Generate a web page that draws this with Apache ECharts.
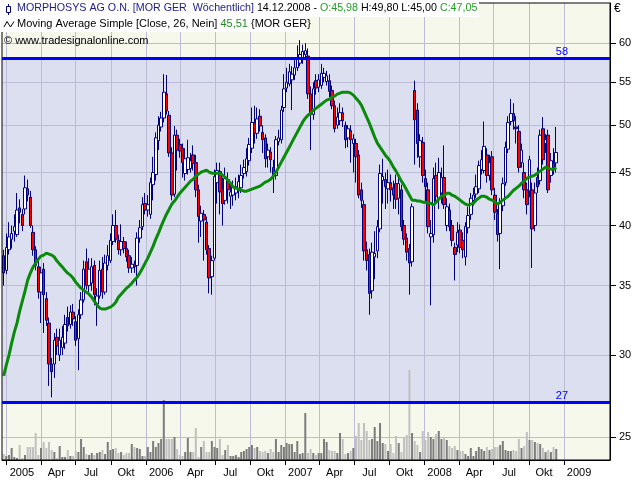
<!DOCTYPE html>
<html><head><meta charset="utf-8">
<script src="https://cdn.jsdelivr.net/npm/echarts@6/dist/echarts.min.js"></script>
<style>html,body{margin:0;padding:0;background:#fff}#c{width:640px;height:480px}</style>
</head><body><div id="c"></div>
<script>
// Weekly bars, first bar dated Friday 24.12.2004
const firstWeek = [2004, 11, 24];
const open = [
37.4,36.2,37.9,38.8,39.5,39.2,41.6,41.0,41.5,43.4,
42.6,39.4,37.9,36.5,34.5,36.3,34.0,32.2,29.4,29.4,
31.2,30.0,30.5,30.8,32.6,32.1,33.0,32.3,31.1,32.8,
33.9,36.9,35.0,35.2,36.6,33.6,34.2,36.3,34.5,36.6,
37.0,38.6,40.0,38.7,37.9,38.6,38.0,37.4,36.4,36.7,
36.6,38.9,39.9,42.0,41.4,41.0,43.8,44.8,48.3,49.8,
50.8,53.6,51.1,47.0,42.9,48.9,47.9,47.5,44.9,45.3,
45.4,46.8,46.0,43.3,40.4,41.0,40.3,38.0,35.7,37.2,
44.0,45.1,43.3,42.3,44.3,42.7,42.8,43.0,43.2,43.5,
44.9,45.1,46.2,47.5,50.3,49.1,51.0,49.2,48.6,46.6,
47.1,45.5,44.7,48.2,48.4,52.0,54.3,54.8,55.3,55.9,
56.8,57.4,57.9,58.5,58.3,53.6,51.2,55.2,54.4,54.6,
55.6,55.1,55.2,54.0,52.2,50.0,50.5,51.4,50.0,48.6,
49.4,48.0,48.0,46.8,43.3,41.9,37.9,37.5,34.6,37.3,
37.8,39.7,44.2,44.3,43.4,44.0,43.5,43.9,42.5,43.3,
40.0,38.9,38.0,36.9,54.0,51.7,46.6,48.1,44.4,43.3,
39.0,39.2,44.7,42.5,43.0,44.5,40.0,41.4,40.0,38.1,
38.3,39.6,38.7,37.3,39.8,41.0,42.3,42.9,43.4,45.3,
45.2,46.8,44.7,46.6,42.8,41.1,39.3,41.8,44.0,47.4,
50.4,51.3,49.8,49.3,46.0,45.0,43.3,43.2,43.3,40.0,
44.5,44.2,49.6,48.0,48.9,44.7,45.9,45.98];
const close = [
36.0,38.1,39.0,39.3,39.9,41.4,41.2,40.0,43.5,42.8,
40.0,37.9,36.6,34.5,36.0,34.3,32.4,29.4,28.9,31.0,
30.6,31.0,31.2,32.1,32.0,33.0,32.5,31.0,32.8,33.9,
36.3,35.0,36.3,36.5,34.3,34.2,36.2,34.5,36.8,37.4,
38.7,40.0,38.8,37.9,38.6,38.0,37.3,36.4,36.7,36.5,
38.9,39.8,41.9,41.4,41.9,44.0,45.0,48.6,50.0,50.8,
53.8,51.6,47.0,42.8,48.9,47.3,47.2,46.0,46.4,46.5,
46.2,45.9,43.3,40.8,41.1,40.5,37.9,35.6,37.0,44.6,
45.2,43.1,42.0,44.4,43.3,43.1,43.6,43.6,44.1,44.7,
45.5,46.4,47.9,50.3,49.1,50.7,49.9,48.4,46.4,47.3,
46.3,44.7,48.4,48.6,51.7,54.2,55.0,56.3,56.0,56.8,
58.1,58.5,58.9,59.0,53.6,51.2,54.2,54.3,55.3,56.1,
56.1,55.8,53.9,52.2,49.6,50.9,51.4,50.5,48.4,49.6,
48.4,48.5,46.6,42.8,42.3,37.8,37.0,34.4,37.7,37.6,
39.9,44.9,44.6,43.6,44.0,43.3,42.8,42.4,43.9,39.9,
38.8,37.7,36.8,41.7,50.6,48.0,48.3,44.7,43.6,39.9,
39.3,44.4,42.7,45.0,44.5,41.9,41.7,39.9,38.7,37.5,
39.4,38.1,37.9,39.9,40.9,42.5,42.8,43.6,45.7,46.3,
47.7,44.7,46.0,43.3,41.2,39.2,42.0,43.9,47.6,50.3,
51.3,50.5,49.6,45.5,47.3,43.3,41.9,46.3,39.7,43.0,
43.6,48.9,46.3,48.4,43.3,46.2,45.5,47.05];
const low = [
35.0,35.9,37.5,38.0,38.6,39.0,40.2,39.5,41.0,42.2,
39.8,37.4,36.2,34.0,32.2,31.5,32.0,28.0,27.3,28.5,
30.0,29.6,30.0,30.4,31.6,31.8,32.0,30.6,29.0,32.5,
33.7,34.7,34.5,34.6,33.5,32.0,34.0,34.0,34.3,36.2,
36.8,38.3,38.5,37.5,37.4,37.6,36.9,36.0,36.0,36.0,
35.0,38.5,39.6,41.0,40.8,40.6,42.3,44.2,47.3,49.3,
50.3,51.2,46.6,42.3,42.6,45.2,46.5,44.5,44.2,44.8,
45.0,45.2,42.6,38.5,39.0,37.0,37.5,34.4,34.3,37.0,
42.0,41.0,40.0,41.9,42.0,41.5,41.8,42.3,42.5,43.0,
44.4,44.6,45.7,47.0,48.0,48.5,49.3,47.0,45.5,45.5,
45.0,43.0,44.3,47.8,48.0,51.5,53.8,54.5,51.7,55.3,
56.4,57.0,57.3,57.9,53.0,47.3,50.6,53.5,53.8,54.2,
55.0,54.6,53.2,51.8,49.2,49.6,50.0,49.8,47.5,47.6,
46.0,45.0,44.0,42.5,41.6,37.0,36.2,32.8,34.0,35.5,
37.2,39.4,42.0,41.5,42.0,42.2,41.5,41.5,41.0,39.5,
38.3,37.0,34.3,36.5,45.8,46.5,45.5,44.0,42.0,39.3,
33.5,38.5,42.0,41.5,42.0,41.5,39.5,39.5,38.2,35.4,
37.7,37.6,37.2,36.6,39.3,40.5,41.8,42.5,43.0,44.8,
44.9,44.0,44.2,42.8,40.5,38.6,36.3,41.3,43.7,47.0,
50.0,49.5,48.0,45.0,45.5,42.5,41.0,42.6,36.4,39.5,
43.0,43.8,45.8,47.0,43.0,44.0,44.8,45.00];
const high = [
37.9,39.3,40.3,40.0,41.0,43.0,42.4,41.5,44.7,44.3,
43.2,40.0,38.2,37.0,36.5,36.8,34.5,32.6,29.8,31.5,
31.8,31.8,32.0,32.8,33.4,33.5,33.6,32.7,33.2,34.5,
37.0,38.0,37.2,37.2,37.0,34.8,37.0,37.3,37.5,38.3,
39.3,41.0,41.4,39.2,40.1,39.0,38.6,37.9,37.3,37.0,
39.4,40.5,42.6,43.0,42.8,44.5,46.6,49.2,51.0,51.5,
56.0,55.9,51.6,47.6,49.9,49.5,48.5,48.0,47.5,48.4,
47.0,47.8,46.8,43.8,41.8,41.4,40.8,38.3,37.4,45.3,
46.0,46.0,44.5,45.5,45.0,44.0,44.2,44.5,44.8,45.8,
46.3,47.5,48.6,52.0,52.2,52.0,51.8,50.0,49.0,48.0,
47.6,46.3,48.8,49.5,52.2,56.0,56.8,57.3,57.0,58.0,
59.7,60.4,59.8,60.0,59.3,54.5,55.0,56.0,56.0,57.3,
56.8,56.4,56.0,54.6,52.8,52.0,52.5,52.0,50.4,50.0,
50.0,49.0,48.5,47.3,44.0,42.3,38.6,38.0,38.5,39.5,
40.5,45.8,46.4,45.0,45.3,44.8,44.2,44.8,44.5,43.8,
40.5,39.3,38.4,42.0,55.2,52.5,49.0,48.7,45.3,44.0,
40.5,45.5,46.0,46.5,45.5,47.8,42.5,42.0,40.5,38.5,
40.3,40.1,39.4,40.3,41.7,43.0,43.5,44.8,46.2,47.3,
50.4,47.5,46.8,47.2,43.5,41.5,42.5,44.5,48.2,51.0,
53.0,52.5,51.0,50.0,48.0,46.0,44.0,46.7,44.0,44.0,
45.5,49.5,50.9,49.0,49.5,47.0,47.5,49.80];
// Moving Average Simple [Close, 26] as drawn
const ma26 = [
28.63,29.33,29.99,30.80,31.56,32.20,33.07,33.81,34.57,35.43,
35.98,36.47,36.79,37.12,37.37,37.45,37.62,37.53,37.45,37.29,
36.96,36.71,36.47,36.22,35.98,35.82,35.59,35.27,35.03,34.80,
34.65,34.49,34.34,34.11,33.81,33.51,33.29,33.22,33.22,33.29,
33.36,33.51,33.73,34.11,34.34,34.57,34.80,34.96,35.19,35.43,
35.66,35.98,36.38,36.79,37.20,37.70,38.21,38.81,39.33,39.94,
40.48,41.02,41.48,41.95,42.23,42.60,42.98,43.27,43.56,43.85,
44.15,44.34,44.64,44.84,45.04,45.14,45.24,45.04,44.94,44.94,
44.94,44.94,44.74,44.54,44.24,43.95,43.56,43.46,43.37,43.27,
43.17,43.17,43.27,43.37,43.46,43.56,43.66,43.85,44.05,44.15,
44.34,44.64,45.04,45.54,46.05,46.56,47.08,47.61,48.15,48.69,
49.23,49.78,50.33,50.78,51.12,51.35,51.69,51.92,52.15,52.38,
52.62,52.86,52.97,53.21,53.33,53.57,53.69,53.80,53.80,53.80,
53.69,53.45,53.09,52.74,52.27,51.58,50.89,50.22,49.45,48.69,
48.04,47.61,47.19,46.77,46.46,46.05,45.54,45.14,44.64,44.15,
43.75,43.27,42.79,42.32,42.32,42.23,42.23,42.13,42.13,42.04,
42.04,41.85,42.13,42.41,42.69,42.79,42.98,42.98,42.79,42.69,
42.51,42.32,42.13,41.95,41.85,41.95,42.04,42.32,42.51,42.69,
42.69,42.60,42.41,42.32,42.13,41.95,42.13,42.32,42.51,42.69,
42.98,43.27,43.46,43.66,43.95,44.15,44.44,44.54,44.64,44.74,
44.94,45.14,45.34,45.54,45.44,45.34,45.34,45.51];
// weekly volume (thousand shares, estimated)
const volume = [
60,40,50,120,30,20,150,20,50,130,
130,130,270,50,120,180,120,180,100,80,
20,140,30,30,100,40,40,90,80,210,
130,60,50,70,50,70,80,100,60,180,
100,110,120,70,80,50,70,70,160,130,
120,110,40,40,130,80,190,130,170,210,
600,210,210,210,230,110,50,40,80,220,
80,80,320,30,130,190,80,80,190,130,
120,210,50,100,150,40,40,50,30,80,
90,110,130,150,120,130,90,80,90,70,
110,80,210,80,150,130,170,160,160,80,
190,60,70,470,70,110,70,50,
70,70,210,180,100,90,90,70,270,210,
60,70,90,120,240,370,200,370,290,200,
210,330,190,370,170,160,90,160,70,240,
170,80,230,250,900,270,190,150,80,290,
200,280,230,210,260,290,210,230,200,140,
120,140,100,90,90,60,40,120,40,90,
130,110,90,130,100,110,130,130,150,190,
100,90,90,100,90,210,120,140,280,200,
200,180,170,160,120,80,100,80,130,110];
const priceTicks = [25, 30, 35, 40, 45, 50, 55, 60];
const quarterNames = ['', 'Apr', 'Jul', 'Okt'];
const levels = [58, 27];
const headerDate = '14.12.2008';

const DAY = 86400000;
const t0 = new Date(firstWeek[0], firstWeek[1], firstWeek[2]).getTime();
const times = open.map((_, i) => t0 + i * 7 * DAY);
const xMin = new Date(2004, 11, 19, 17).getTime();
const xMax = new Date(2009, 4, 2).getTime();
const yMin = 23.75, yMax = 65.6;
const quarterStarts = [];
for (let y = 2005; y <= 2009; y++) for (let m = 0; m < 12; m += 3) {
  const t = new Date(y, m, 1).getTime();
  if (t <= new Date(2009, 0, 1).getTime()) quarterStarts.push(t);
}
const LBL_SHIFT = 40 * DAY;
const labelValues = quarterStarts.map(t => t + LBL_SHIFT);

const n = open.length;
const fmt = v => v.toFixed(2).replace('.', ',');
const FONT = 'Liberation Sans';
const gridColor = '#bcbcd6';

const candleData = times.map((t, i) => [t, open[i], close[i], low[i], high[i]]);
const maData = times.map((t, i) => [t, ma26[i]]);
const volData = times.map((t, i) => [t, volume[i]]);

const chart = echarts.init(document.getElementById('c'));
chart.setOption({
  animation: false,
  backgroundColor: '#ffffff',
  grid: { left: 2, right: 30, top: 3, bottom: 20, show: true, borderColor: '#000', borderWidth: 1,
          backgroundColor: 'rgba(0,0,0,0)', z: 5, containLabel: false },
  xAxis: [{
    type: 'value', min: xMin, max: xMax, position: 'bottom', scale: true,
    axisLine: { show: true, lineStyle: { color: '#000', width: 1 } },
    axisTick: { show: true, customValues: quarterStarts, length: 5, lineStyle: { color: '#000' } },
    axisLabel: { show: true, customValues: labelValues, margin: 7, color: '#000', fontSize: 11, fontFamily: FONT,
      formatter: v => { const d = new Date(v - LBL_SHIFT); const m = d.getMonth();
        return m === 0 ? String(d.getFullYear()) : quarterNames[Math.round(m / 3)]; } },
    splitLine: { show: true, lineStyle: { color: gridColor, width: 1 } }
  }],
  yAxis: [{
    type: 'log', logBase: 10, min: yMin, max: yMax, position: 'right',
    axisLine: { show: true, lineStyle: { color: '#000', width: 1 } },
    axisTick: { show: true, customValues: priceTicks, length: 6, lineStyle: { color: '#000' } },
    axisLabel: { show: true, customValues: priceTicks, margin: 9, color: '#000', fontSize: 11, fontFamily: FONT,
      formatter: v => String(Math.round(v)) },
    splitLine: { show: true, lineStyle: { color: gridColor, width: 1 } }
  }, {
    type: 'value', min: 0, max: 4570, position: 'left',
    axisLine: { show: false }, axisTick: { show: false }, axisLabel: { show: false }, splitLine: { show: false }
  }],
  series: [{
    type: 'line', data: [], silent: true, z: -1,
    markArea: { silent: true, z: -1, label: { show: false },
      data: [
        [{ yAxis: yMin, itemStyle: { color: '#f6f8ec' } }, { yAxis: yMax }],
        [{ yAxis: levels[1], itemStyle: { color: '#dcdff0' } }, { yAxis: levels[0] }]
      ] }
  }, {
    type: 'bar', xAxisIndex: 0, yAxisIndex: 1, data: volData, barWidth: 2, z: 1,
    itemStyle: { color: p => close[p.dataIndex] >= open[p.dataIndex] ? '#7c7c7c' : '#c0c0c0' }
  }, {
    type: 'candlestick', xAxisIndex: 0, yAxisIndex: 0, data: candleData, barWidth: 3, z: 2,
    encode: { x: 0, y: [1, 2, 3, 4] },
    itemStyle: { color: '#ffffff', color0: '#ff0000', borderColor: '#000080', borderColor0: '#000080',
                 borderColorDoji: '#000080', borderWidth: 1 }
  }, {
    type: 'line', xAxisIndex: 0, yAxisIndex: 0, data: maData, showSymbol: false, z: 3,
    lineStyle: { color: '#0a8a0a', width: 3 },
    markLine: { silent: true, symbol: 'none', z: 6,
      lineStyle: { color: '#0000ff', width: 3, type: 'solid' },
      label: { show: true, position: 'insideEndTop', distance: [5, 1], padding: [0, 37, 0, 0],
               color: '#0000ff', fontSize: 11, fontFamily: FONT, formatter: p => String(p.value) },
      data: levels.map(v => ({ yAxis: v })) }
  }],
  title: [{
    left: 17, top: 3, padding: 0, z: 60,
    text: `{n|MORPHOSYS AG O.N. [MOR GER  Wöchentlich]} {k|${headerDate} -} {g|O:${fmt(open[n-1])}} {k|H:${fmt(high[n-1])} L:${fmt(low[n-1])}} {g|C:${fmt(close[n-1])}}`,
    textStyle: { fontSize: 10.7, fontFamily: FONT, fontWeight: 'normal', color: '#000',
      rich: { n: { color: '#1c1c8c', fontSize: 10.7, fontFamily: FONT },
              k: { color: '#000', fontSize: 10.7, fontFamily: FONT },
              g: { color: '#22a022', fontSize: 10.7, fontFamily: FONT } } }
  }, {
    left: 17, top: 18, padding: 0, z: 60,
    text: `Moving Average Simple [Close, 26, Nein] {g|${fmt(ma26[n-1])}} {MOR GER}`,
    textStyle: { fontSize: 11, fontFamily: FONT, fontWeight: 'normal', color: '#000',
      rich: { g: { color: '#1e8c1e', fontSize: 11, fontFamily: FONT } } }
  }, {
    left: 4, top: 35, padding: 0, z: 60,
    text: '© www.tradesignalonline.com',
    textStyle: { fontSize: 11, fontFamily: FONT, fontWeight: 'normal', color: '#000' }
  }],
  graphic: [
    { type: 'rect', shape: { x: 0, y: 2, width: 479, height: 15 }, style: { fill: '#ffffff' }, z: 50, silent: true },
    { type: 'rect', shape: { x: 0, y: 17, width: 306, height: 15 }, style: { fill: '#ffffff' }, z: 50, silent: true },
    { type: 'line', shape: { x1: 8.5, y1: 4, x2: 8.5, y2: 15 }, style: { stroke: '#000080', lineWidth: 1 }, z: 55, silent: true },
    { type: 'rect', shape: { x: 6.5, y: 6.5, width: 4, height: 6 }, style: { fill: '#ffffff', stroke: '#000080', lineWidth: 1 }, z: 56, silent: true },
    { type: 'polyline', shape: { points: [[4, 27], [7, 21.5], [10.5, 27], [14, 21.5]] }, style: { stroke: '#000', lineWidth: 1, fill: null }, z: 55, silent: true },
    { type: 'text', x: 614, y: 3, style: { text: '€', fill: '#000', font: '12px "Liberation Sans"' }, z: 55, silent: true }
  ]
});
</script>
</body></html>
